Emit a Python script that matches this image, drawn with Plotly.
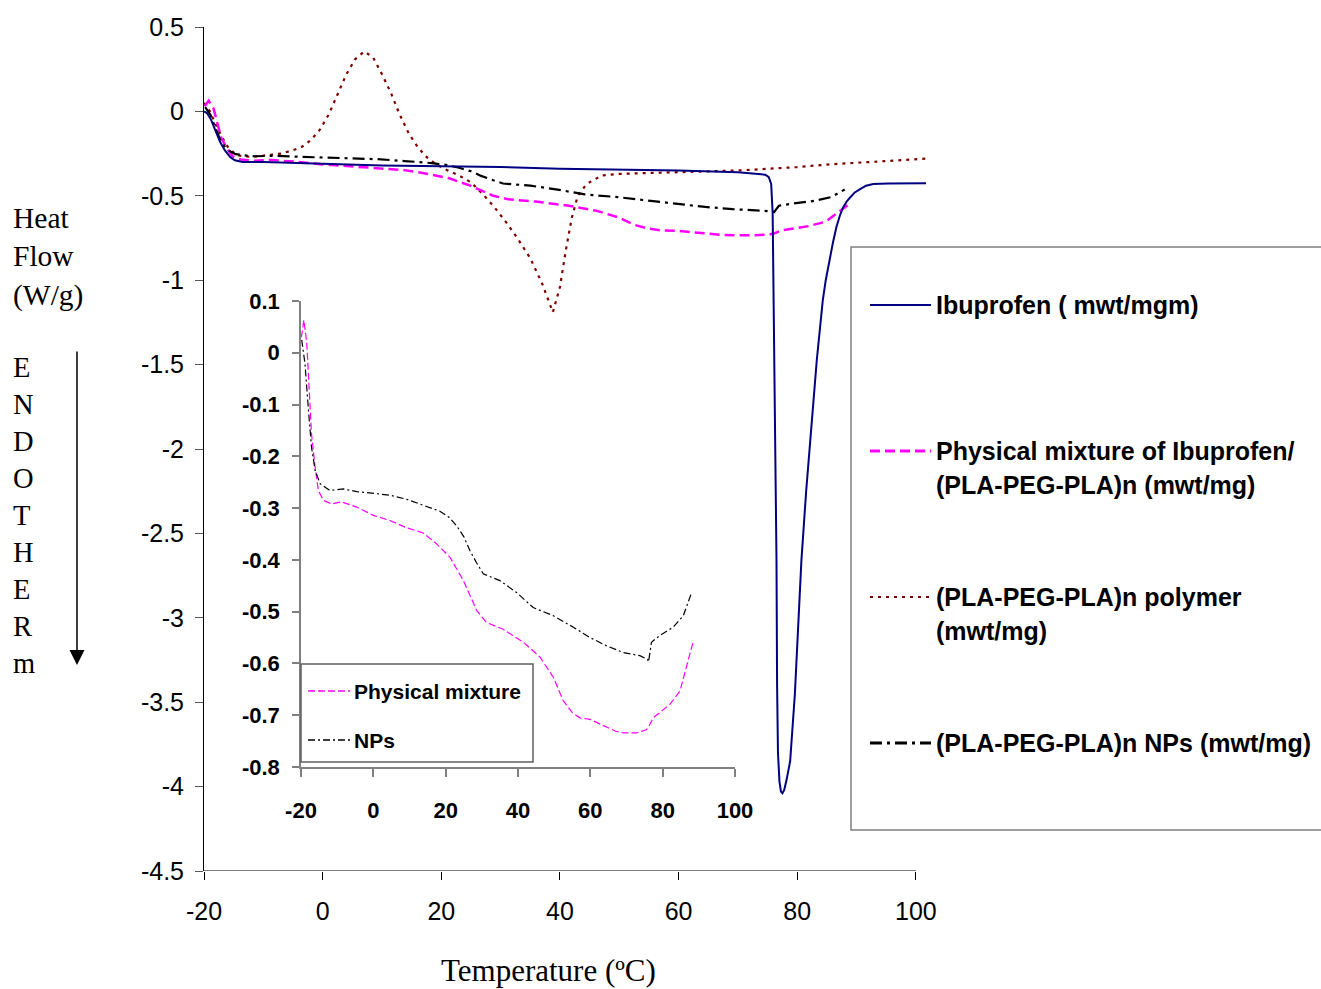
import plotly.graph_objects as go

# ---------------- data ----------------
ibu_x = [-20, -19.5, -18.8, -18.1, -17.3, -16.5, -15.6, -14.8, -13.5, -10, 0, 10, 20, 30, 40, 50, 60, 70,
         73.7, 74.6, 75.2, 75.6, 75.85, 76.0, 76.2, 76.5, 76.6, 76.75, 77.0, 77.25, 77.5, 77.8, 78.2, 78.8,
         79.6, 80.2, 80.7, 81.5, 82.4, 83.3, 83.9, 84.3, 84.8, 85.4, 86.0, 86.6, 87.2, 87.75, 88.3, 88.9, 89.7,
         90.6, 91.6, 92.8, 95.3, 101.7]
ibu_y = [0.0, -0.01, -0.05, -0.11, -0.18, -0.23, -0.27, -0.29, -0.30, -0.30, -0.31, -0.32, -0.325, -0.33, -0.34,
         -0.345, -0.35, -0.36, -0.37, -0.375, -0.39, -0.43, -0.6, -1.0, -1.8, -2.66, -3.4, -3.8, -3.97, -4.03,
         -4.04, -4.02, -3.96, -3.85, -3.45, -3.05, -2.66, -2.25, -1.85, -1.47, -1.26, -1.12, -1.0, -0.88, -0.78,
         -0.685, -0.615, -0.567, -0.535, -0.51, -0.48, -0.46, -0.44, -0.43, -0.427, -0.425]

phys_x = [-19.9, -19.2, -18.4, -17.7, -17.1, -16.1, -15.2, -13.8, -11.5, -8.8, -4.6, 0, 4.6, 9.2, 13.8, 17.5,
          21.2, 24.9, 28.6, 31.3, 35.9, 41.5, 46.1, 49.8, 52.5, 55, 57.1, 59.9, 62, 64.5, 67, 69.1, 72.8, 75.5,
          76, 77.4, 80, 82, 84.8, 86.6, 88.5]
phys_y = [0.03, 0.063, 0.018, -0.072, -0.156, -0.221, -0.266, -0.285, -0.292, -0.288, -0.298, -0.314, -0.324,
          -0.338, -0.348, -0.369, -0.395, -0.44, -0.498, -0.521, -0.534, -0.559, -0.588, -0.627, -0.672, -0.695,
          -0.705, -0.708, -0.715, -0.724, -0.731, -0.734, -0.734, -0.728, -0.724, -0.705, -0.69, -0.679, -0.653,
          -0.608, -0.556]

poly_x = [-20, -19, -18, -17, -16, -14.5, -12, -9, -7, -5, -3.5, -2, -0.5, 1, 2.5, 4, 5.5, 7, 8.5, 10, 11.5,
          13, 14.5, 16, 17.5, 19, 20.5, 23, 25, 27, 29, 31, 33, 35, 37, 38.8, 40, 41, 42, 43, 44.5, 47, 50, 55,
          60, 65, 70, 75, 80, 85, 90, 95, 100, 101.7]
poly_y = [0.05, 0.0, -0.08, -0.15, -0.21, -0.26, -0.27, -0.26, -0.25, -0.23, -0.21, -0.17, -0.11, -0.02, 0.10,
          0.22, 0.31, 0.355, 0.32, 0.22, 0.11, -0.02, -0.13, -0.21, -0.27, -0.31, -0.34, -0.38, -0.42, -0.49,
          -0.57, -0.66, -0.76, -0.87, -1.02, -1.19, -1.04, -0.82, -0.63, -0.50, -0.43, -0.38, -0.37, -0.365,
          -0.36, -0.355, -0.35, -0.34, -0.33, -0.315, -0.305, -0.295, -0.285, -0.28]

np_x = [-19.8, -18.9, -18, -17.1, -16.1, -14.7, -12, -8.3, -4.6, 0, 4.6, 9.2, 13.8, 18.4, 21, 23, 25, 26.7,
        28.5, 30.4, 35, 39.6, 44.2, 49.8, 55.3, 59.9, 64.5, 69.1, 73.7, 75.8, 76.1, 76.9, 79.2, 82.9, 85.7, 88]
np_y = [0.025, -0.021, -0.105, -0.182, -0.227, -0.253, -0.266, -0.263, -0.268, -0.272, -0.275, -0.283, -0.294,
        -0.306, -0.318, -0.334, -0.355, -0.382, -0.405, -0.427, -0.44, -0.463, -0.492, -0.508, -0.53, -0.55,
        -0.566, -0.579, -0.585, -0.592, -0.597, -0.559, -0.546, -0.53, -0.508, -0.463]

main_xticks = [-20, 0, 20, 40, 60, 80, 100]
main_xtext = ["-20", "0", "20", "40", "60", "80", "100"]
main_yticks = [0.5, 0, -0.5, -1, -1.5, -2, -2.5, -3, -3.5, -4, -4.5]
main_ytext = ["0.5", "0", "-0.5", "-1", "-1.5", "-2", "-2.5", "-3", "-3.5", "-4", "-4.5"]
inset_xticks = [-20, 0, 20, 40, 60, 80, 100]
inset_xtext = ["-20", "0", "20", "40", "60", "80", "100"]
inset_yticks = [0.1, 0, -0.1, -0.2, -0.3, -0.4, -0.5, -0.6, -0.7, -0.8]
inset_ytext = ["0.1", "0", "-0.1", "-0.2", "-0.3", "-0.4", "-0.5", "-0.6", "-0.7", "-0.8"]

legend_labels = [["Ibuprofen ( mwt/mgm)"],
                 ["Physical mixture of Ibuprofen/", "(PLA-PEG-PLA)n (mwt/mg)"],
                 ["(PLA-PEG-PLA)n polymer", "(mwt/mg)"],
                 ["(PLA-PEG-PLA)n NPs (mwt/mg)"]]
inset_legend_labels = ["Physical mixture", "NPs"]

# ---------------- styles ----------------
W, H = 1321, 989
NAVY, MAG, DRED, BLK = "#000080", "#FF00FF", "#800000", "#000000"
DASH_MAG = "10px,5px"
DASH_RED = "3px,5px"
DASH_NP = "12px,5px,3px,5px"
SANS = "Liberation Sans, Arial, sans-serif"
SERIF = "Liberation Serif, Times New Roman, serif"


def px(x):
    return x / W


def py(y):
    return 1 - y / H


fig = go.Figure()
fig.add_trace(go.Scatter(x=poly_x, y=poly_y, mode="lines", line=dict(color=DRED, width=2.2, dash=DASH_RED),
                         showlegend=False, xaxis="x", yaxis="y"))
fig.add_trace(go.Scatter(x=phys_x, y=phys_y, mode="lines", line=dict(color=MAG, width=2.5, dash=DASH_MAG),
                         showlegend=False, xaxis="x", yaxis="y"))
fig.add_trace(go.Scatter(x=np_x, y=np_y, mode="lines", line=dict(color=BLK, width=2.2, dash=DASH_NP),
                         showlegend=False, xaxis="x", yaxis="y"))
fig.add_trace(go.Scatter(x=ibu_x, y=ibu_y, mode="lines", line=dict(color=NAVY, width=2),
                         showlegend=False, xaxis="x", yaxis="y"))
# inset
fig.add_trace(go.Scatter(x=phys_x, y=phys_y, mode="lines", line=dict(color=MAG, width=1.2, dash="7px,3px"),
                         showlegend=False, xaxis="x2", yaxis="y2"))
fig.add_trace(go.Scatter(x=np_x, y=np_y, mode="lines", line=dict(color=BLK, width=1.2, dash="7px,3px,2px,3px"),
                         showlegend=False, xaxis="x2", yaxis="y2"))

fig.update_layout(
    width=W, height=H, margin=dict(l=0, r=0, t=0, b=0, pad=0, autoexpand=False),
    paper_bgcolor="white", plot_bgcolor="rgba(0,0,0,0)", showlegend=False,
    xaxis=dict(domain=[px(204), px(926)], range=[-20, 101.7], anchor="y", automargin=False,
               tickmode="array", tickvals=main_xticks, ticktext=main_xtext,
               ticks="outside", ticklen=8, tickcolor="black", tickwidth=1,
               showline=False, showgrid=False, zeroline=False,
               tickfont=dict(family=SANS, size=25, color="black"), ticklabelstandoff=10),
    yaxis=dict(domain=[py(871), py(27)], range=[-4.5, 0.5], anchor="x", automargin=False,
               tickmode="array", tickvals=main_yticks, ticktext=main_ytext,
               ticks="outside", ticklen=8, tickcolor="#555555", tickwidth=1,
               showline=True, linecolor="black", linewidth=1, showgrid=False, zeroline=False,
               tickfont=dict(family=SANS, size=25, color="black"), ticklabelstandoff=6),
    xaxis2=dict(domain=[px(301), px(735)], range=[-20, 100], anchor="y2", automargin=False,
                tickmode="array", tickvals=inset_xticks, ticktext=inset_xtext,
                ticks="outside", ticklen=8, tickcolor="#808080", tickwidth=1.5,
                showline=True, linecolor="#808080", linewidth=1.5, showgrid=False, zeroline=False,
                tickfont=dict(family=SANS, size=22, color="black", weight="bold"), ticklabelstandoff=15),
    yaxis2=dict(domain=[py(767), py(301)], range=[-0.8, 0.1], anchor="x2", automargin=False,
                tickmode="array", tickvals=inset_yticks, ticktext=inset_ytext,
                ticks="outside", ticklen=7, tickcolor="#808080", tickwidth=1.5,
                showline=True, linecolor="#808080", linewidth=1.5, showgrid=False, zeroline=False,
                tickfont=dict(family=SANS, size=22, color="black", weight="bold"), ticklabelstandoff=8),
)

shapes = []
# main x axis line (-20 .. 100)
shapes.append(dict(type="line", xref="x", yref="y", x0=-20, x1=100, y0=-4.5, y1=-4.5,
                   line=dict(color="black", width=1)))
# main legend box
shapes.append(dict(type="rect", xref="paper", yref="paper", x0=px(851), x1=px(1330), y0=py(830), y1=py(247),
                   line=dict(color="#808080", width=1.5)))
# inset legend box
shapes.append(dict(type="rect", xref="paper", yref="paper", x0=px(301), x1=px(533), y0=py(762), y1=py(664),
                   line=dict(color="#606060", width=1.5)))

main_styles = [dict(color=NAVY, width=2, dash="solid"),
               dict(color=MAG, width=3, dash=DASH_MAG),
               dict(color=DRED, width=2, dash=DASH_RED),
               dict(color=BLK, width=3, dash=DASH_NP)]
legend_rows = [[305], [451, 485], [597, 631], [743]]
annotations = []
for style, rows, labels in zip(main_styles, legend_rows, legend_labels):
    shapes.append(dict(type="line", xref="paper", yref="paper", x0=px(870), x1=px(931),
                       y0=py(rows[0]), y1=py(rows[0]), line=style))
    for yy, txt in zip(rows, labels):
        annotations.append(dict(xref="paper", yref="paper", x=px(934), y=py(yy), text=txt, showarrow=False,
                                xanchor="left", yanchor="middle",
                                font=dict(family=SANS, size=25, color="black", weight="bold")))

inset_styles = [dict(color=MAG, width=1.5, dash="7px,3px"), dict(color=BLK, width=1.5, dash="7px,3px,2px,3px")]
for style, yy, txt in zip(inset_styles, [691, 740], inset_legend_labels):
    shapes.append(dict(type="line", xref="paper", yref="paper", x0=px(308), x1=px(350),
                       y0=py(yy), y1=py(yy), line=style))
    annotations.append(dict(xref="paper", yref="paper", x=px(352), y=py(yy), text=txt, showarrow=False,
                            xanchor="left", yanchor="middle",
                            font=dict(family=SANS, size=21, color="black", weight="bold")))

# axis titles
annotations.append(dict(xref="paper", yref="paper", x=px(11), y=py(257), text="Heat<br>Flow<br>(W/g)",
                        showarrow=False, xanchor="left", yanchor="middle", align="left",
                        font=dict(family=SERIF, size=29.5, color="black")))
annotations.append(dict(xref="paper", yref="paper", x=px(11), y=py(515),
                        text="E<br>N<br>D<br>O<br>T<br>H<br>E<br>R<br>m",
                        showarrow=False, xanchor="left", yanchor="middle", align="left",
                        font=dict(family=SERIF, size=28.5, color="black")))
annotations.append(dict(xref="paper", yref="paper", x=px(77), y=py(665), ax=0, ay=-315, text="",
                        showarrow=True, arrowhead=2, arrowsize=2, arrowwidth=1.5, arrowcolor="black"))
annotations.append(dict(xref="paper", yref="paper", x=px(548), y=py(970), text="Temperature (ºC)",
                        showarrow=False, xanchor="center", yanchor="middle",
                        font=dict(family=SERIF, size=31, color="black")))

fig.update_layout(shapes=shapes, annotations=annotations)
fig.write_html("out.html", config={"displayModeBar": False},
               post_script="document.body.style.margin='0';document.body.style.padding='0';"
                           "document.documentElement.style.overflow='hidden';"
                           "document.body.style.overflow='hidden';")
